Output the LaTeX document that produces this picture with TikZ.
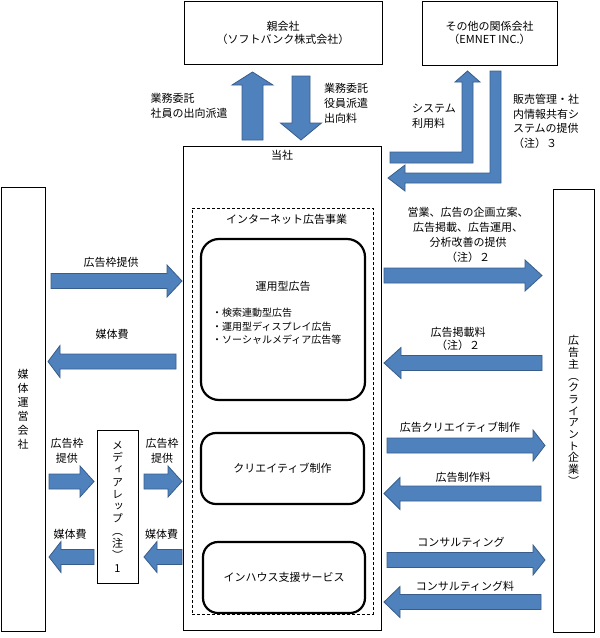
\documentclass[tikz,border=0pt]{standalone}
\usepackage{fontspec}
\setmainfont{Noto Sans CJK JP}
\newfontfamily\vfont[RawFeature=+vert]{Noto Sans CJK JP}
\usetikzlibrary{calc}
\definecolor{arrowblue}{HTML}{4F81BD}
\definecolor{arrowedge}{HTML}{385D8A}

% block arrow: shaft half width, head half width, head length, start, tip
\newcommand\blockarrow[5]{%
\coordinate (ba-c) at ($(#5)!#3pt!(#4)$);
\filldraw[bluearrow] ($(#4)!#1pt!90:(#5)$) -- ($(ba-c)!#1pt!90:(#5)$) -- ($(ba-c)!#2pt!90:(#5)$) -- (#5) -- ($(ba-c)!#2pt!-90:(#5)$) -- ($(ba-c)!#1pt!-90:(#5)$) -- ($(#4)!#1pt!-90:(#5)$) -- cycle;}

\begin{document}
\begin{tikzpicture}[x=1pt,y=-1pt,
  box/.style={draw,line width=0.9pt,inner sep=2pt},
  rbox/.style={draw,line width=2.2pt,rounded corners=18pt},
  dbox/.style={draw,line width=0.8pt,dash pattern=on 3pt off 2pt},
  vtext/.style={align=center,inner sep=0pt},
  lbl/.style={align=center,font=\fontsize{11}{15}\selectfont,inner sep=1pt},
  lbll/.style={lbl,align=left},
  bluearrow/.style={fill=arrowblue,draw=arrowedge,line width=0.8pt}]
\useasboundingbox (0,0) rectangle (600,638);

% companies
\node[box,minimum width=198pt,minimum height=63pt,align=center,font=\fontsize{11}{13}\selectfont] (parent) at (283,32.5) {親会社\\（ソフトバンク株式会社）};
\node[box,minimum width=135pt,minimum height=64pt,align=center,font=\fontsize{11}{13}\selectfont] (emnet) at (489.5,33) {その他の関係会社\\（EMNET INC.）};
\node[box,minimum width=198pt,minimum height=484pt,label={[anchor=north,yshift=-4pt,lbl]north:当社}] (us) at (282,388) {};
\node[box,minimum width=44pt,minimum height=444pt,vtext,font=\fontsize{11}{14}\selectfont] (media) at (23,409) {媒\\体\\運\\営\\会\\社};
\node[box,minimum width=41pt,minimum height=153pt,vtext,font=\fontsize{11}{12.3}\vfont] (rep) at (117.5,506.5) {メ\\デ\\ィ\\ア\\レ\\ッ\\プ\\︵\\注\\︶\\1};
\node[box,minimum width=41pt,minimum height=443pt,vtext,font=\fontsize{11}{11.7}\vfont] (client) at (573.5,410.5) {広\\告\\主\\︵\\ク\\ラ\\イ\\ア\\ン\\ト\\企\\業\\︶};

% internet ad business
\node[dbox,minimum width=181pt,minimum height=406pt,label={[anchor=north,yshift=-5pt,xshift=4pt,lbl]north:インターネット広告事業}] (netbiz) at (282.5,411) {};
\node[rbox,minimum width=164pt,minimum height=161pt] (opad) at (283,319.5) {};
\node[lbl] (opadtitle) at ($(opad.north)+(0,48)$) {運用型広告};
\node[lbll,anchor=north west,font=\fontsize{10}{13.5}\selectfont] (opadlist) at (211,307) {・検索連動型広告\\・運用型ディスプレイ広告\\・ソーシャルメディア広告等};
\node[rbox,rounded corners=15pt,minimum width=163pt,minimum height=71pt,lbl] (creative) at (282.5,468.5) {クリエイティブ制作};
\node[rbox,rounded corners=15pt,minimum width=162pt,minimum height=71pt,lbl] (inhouse) at (284,577.5) {インハウス支援サービス};

% arrows to and from the parent
\coordinate (toparent-s) at (252.5,140); \coordinate (toparent-e) at (252.5,72);
\coordinate (fromparent-s) at (301,76); \coordinate (fromparent-e) at (301,140);
\blockarrow{10.5}{20.5}{13}{toparent-s}{toparent-e}
\blockarrow{9}{20.5}{17}{fromparent-s}{fromparent-e}
\node[lbll] (parentin) at (189,105.5) {業務委託\\社員の出向派遣};
\node[lbll] (parentout) at (346,103) {業務委託\\役員派遣\\出向料};

% arrows to and from EMNET
\filldraw[bluearrow] (390,152) -- (462,152) -- (462,82) -- (455,82) -- (467.5,71) -- (480,82) -- (473,82) -- (473,163) -- (390,163) -- cycle;
\filldraw[bluearrow] (490,71) -- (501,71) -- (501,183) -- (405,183) -- (405,191) -- (388,178) -- (405,165) -- (405,173) -- (490,173) -- cycle;
\node[lbll] (sysfee) at (434,116.5) {システム\\利用料};
\node[lbll,font=\fontsize{11}{14.5}\selectfont] (syssvc) at (546,121.5) {販売管理・社\\内情報共有シ\\ステムの提供\\（注）３};

% media side
\coordinate (frame1-s) at (51,281); \coordinate (frame1-e) at (182,281);
\coordinate (mfee1-s) at (176,361.5); \coordinate (mfee1-e) at (48,361.5);
\coordinate (frame2-s) at (49,481.5); \coordinate (frame2-e) at (94,481.5);
\coordinate (mfee2-s) at (94,557); \coordinate (mfee2-e) at (49,557);
\coordinate (frame3-s) at (144,481.5); \coordinate (frame3-e) at (182,481.5);
\coordinate (mfee3-s) at (182,557); \coordinate (mfee3-e) at (144,557);
\blockarrow{7.5}{16}{15}{frame1-s}{frame1-e}
\blockarrow{7.5}{16}{12}{mfee1-s}{mfee1-e}
\blockarrow{7.5}{15.5}{14}{frame2-s}{frame2-e}
\blockarrow{7.5}{15.5}{12}{mfee2-s}{mfee2-e}
\blockarrow{7.5}{15.5}{14}{frame3-s}{frame3-e}
\blockarrow{7.5}{15.5}{13}{mfee3-s}{mfee3-e}
\node[lbl] (frame1) at (111,262) {広告枠提供};
\node[lbl] (mfee1) at (112,334) {媒体費};
\node[lbl] (frame2) at (67,450.5) {広告枠\\提供};
\node[lbl] (mfee2) at (70,534) {媒体費};
\node[lbl] (frame3) at (162,450.5) {広告枠\\提供};
\node[lbl] (mfee3) at (161.5,534) {媒体費};

% client side
\coordinate (svc-s) at (384,275.5); \coordinate (svc-e) at (542,275.5);
\coordinate (adfee-s) at (542,363); \coordinate (adfee-e) at (384,363);
\coordinate (crsvc-s) at (387,445.5); \coordinate (crsvc-e) at (545,445.5);
\coordinate (crfee-s) at (541,493.5); \coordinate (crfee-e) at (384,493.5);
\coordinate (consult-s) at (387,560); \coordinate (consult-e) at (545,560);
\coordinate (confee-s) at (541,602); \coordinate (confee-e) at (384,602);
\blockarrow{7.5}{15.5}{17}{svc-s}{svc-e}
\blockarrow{7.5}{15.5}{17}{adfee-s}{adfee-e}
\blockarrow{7.5}{15.5}{12}{crsvc-s}{crsvc-e}
\blockarrow{7.5}{16}{16}{crfee-s}{crfee-e}
\blockarrow{7.5}{15}{12}{consult-s}{consult-e}
\blockarrow{7.5}{15.5}{16}{confee-s}{confee-e}
\node[lbl] (svc) at (468,234.5) {営業、広告の企画立案、\\広告掲載、広告運用、\\分析改善の提供\\（注）２};
\node[lbl,font=\fontsize{11}{13}\selectfont] (adfee) at (458,338.5) {広告掲載料\\（注）２};
\node[lbl] (crsvc) at (460,427) {広告クリエイティブ制作};
\node[lbl] (crfee) at (463,477) {広告制作料};
\node[lbl] (consult) at (461,542) {コンサルティング};
\node[lbl] (confee) at (465,586) {コンサルティング料};
\end{tikzpicture}
\end{document}
